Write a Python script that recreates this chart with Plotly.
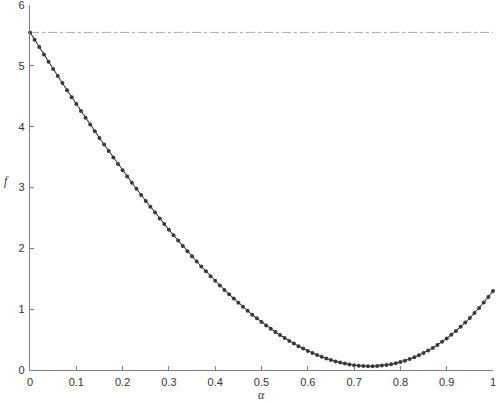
import plotly.graph_objects as go

# step length alpha and objective value f
alpha = [i / 100 for i in range(101)]
f_vals = [
    5.550, 5.428, 5.308, 5.188, 5.068, 4.950, 4.832, 4.716, 4.600, 4.485,
    4.371, 4.258, 4.145, 4.034, 3.924, 3.815, 3.706, 3.599, 3.493, 3.388,
    3.283, 3.180, 3.079, 2.978, 2.878, 2.780, 2.683, 2.587, 2.492, 2.399,
    2.307, 2.216, 2.127, 2.039, 1.953, 1.868, 1.784, 1.702, 1.622, 1.543,
    1.466, 1.390, 1.316, 1.244, 1.174, 1.105, 1.038, 0.973, 0.910, 0.849,
    0.790, 0.733, 0.678, 0.625, 0.574, 0.525, 0.478, 0.434, 0.392, 0.352,
    0.314, 0.279, 0.247, 0.216, 0.189, 0.164, 0.141, 0.122, 0.105, 0.091,
    0.079, 0.070, 0.065, 0.062, 0.062, 0.066, 0.072, 0.082, 0.095, 0.111,
    0.130, 0.153, 0.179, 0.209, 0.242, 0.279, 0.319, 0.363, 0.411, 0.463,
    0.518, 0.578, 0.641, 0.709, 0.780, 0.856, 0.936, 1.021, 1.109, 1.202,
    1.300,
]
ref_x = [0, 1]
ref_f = [5.55, 5.55]

x_ticks = [0, 0.1, 0.2, 0.3, 0.4, 0.5, 0.6, 0.7, 0.8, 0.9, 1]
x_labels = ["0", "0.1", "0.2", "0.3", "0.4", "0.5", "0.6", "0.7", "0.8", "0.9", "1"]
y_ticks = [0, 1, 2, 3, 4, 5, 6]

fig = go.Figure()
fig.add_trace(go.Scatter(
    x=ref_x, y=ref_f, mode="lines",
    line=dict(color="#a8a8a8", width=1, dash="dashdot"),
    showlegend=False, hoverinfo="skip", cliponaxis=False,
))
fig.add_trace(go.Scatter(
    x=alpha, y=f_vals, mode="lines+markers",
    line=dict(color="#111111", width=1),
    marker=dict(color="#3a3a3a", size=4, line=dict(width=0)),
    showlegend=False, cliponaxis=False,
))

font = dict(family="Liberation Sans, Arial, sans-serif", size=11, color="#333333")
fig.update_layout(
    width=499, height=403,
    margin=dict(l=30, r=6, t=5, b=33, autoexpand=False),
    paper_bgcolor="white", plot_bgcolor="white",
    font=font,
    xaxis=dict(
        range=[0, 1], tickvals=x_ticks, ticktext=x_labels, automargin=False,
        ticks="inside", ticklen=4, tickcolor="#808080", tickwidth=1,
        showline=True, linecolor="#808080", linewidth=1.3,
        showgrid=False, zeroline=False, ticklabelstandoff=2,
        ticklabeloverflow="allow",
    ),
    yaxis=dict(
        range=[0, 6], tickvals=y_ticks, automargin=False,
        ticks="inside", ticklen=4, tickcolor="#808080", tickwidth=1,
        showline=True, linecolor="#808080", linewidth=1.3,
        showgrid=False, zeroline=False, ticklabelstandoff=2,
        ticklabeloverflow="allow",
    ),
    annotations=[
        dict(text="<i>α</i>", xref="paper", yref="paper", x=0.5, y=-0.068,
             yanchor="middle", showarrow=False,
             font=dict(family="Liberation Serif, serif", size=12, color="#333333")),
        dict(text="<i>f</i>", xref="paper", yref="paper", x=-0.05, y=0.517,
             xanchor="center", showarrow=False,
             font=dict(family="Liberation Serif, serif", size=12, color="#333333")),
    ],
)

# drop the default page margin so the figure sits at the window's corner
fig.write_html("out.html", config={"displayModeBar": False},
               post_script="document.body.style.margin='0';")
